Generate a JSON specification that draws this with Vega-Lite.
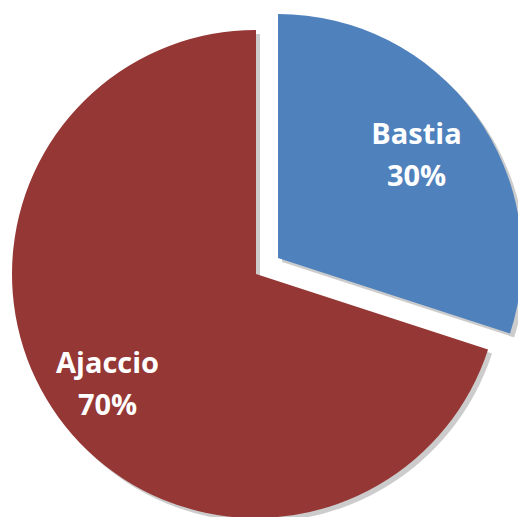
{
  "$schema": "https://vega.github.io/schema/vega-lite/v6.json",
  "width": 512,
  "height": 488,
  "autosize": "none",
  "padding": {"left": 0, "top": 30, "right": 6, "bottom": 0},
  "background": "white",
  "data": {
    "values": [
      {"city": "Bastia", "share": 30, "label": ["Bastia", "30%"], "ord": 1},
      {"city": "Ajaccio", "share": 70, "label": ["Ajaccio", "70%"], "ord": 2}
    ]
  },
  "encoding": {
    "theta": {"field": "share", "type": "quantitative", "stack": true},
    "order": {"field": "ord", "type": "quantitative"},
    "color": {
      "field": "city",
      "type": "nominal",
      "scale": {"domain": ["Bastia", "Ajaccio"], "range": ["#4F81BD", "#953735"]},
      "legend": null
    }
  },
  "layer": [
    {
      "mark": {"type": "arc", "outerRadius": 244, "xOffset": 4, "yOffset": 4},
      "encoding": {
        "color": {"value": "black"},
        "opacity": {"condition": {"test": "datum.city == 'Ajaccio'", "value": 0.2}, "value": 0}
      }
    },
    {
      "mark": {"type": "arc", "outerRadius": 244},
      "encoding": {
        "opacity": {"condition": {"test": "datum.city == 'Ajaccio'", "value": 1}, "value": 0}
      }
    },
    {
      "mark": {"type": "arc", "outerRadius": 244, "xOffset": 26, "yOffset": -12},
      "encoding": {
        "color": {"value": "black"},
        "opacity": {"condition": {"test": "datum.city == 'Bastia'", "value": 0.2}, "value": 0}
      }
    },
    {
      "mark": {"type": "arc", "outerRadius": 244, "xOffset": 22, "yOffset": -16},
      "encoding": {
        "opacity": {"condition": {"test": "datum.city == 'Bastia'", "value": 1}, "value": 0}
      }
    },
    {
      "mark": {"type": "text", "radius": 186, "dx": 2, "dy": -19, "font": "Open Sans", "fontWeight": "bold", "fontSize": 29, "lineHeight": 42, "align": "center", "baseline": "middle"},
      "encoding": {
        "text": {"field": "label", "type": "nominal"},
        "color": {"value": "white"},
        "opacity": {"condition": {"test": "datum.city == 'Ajaccio'", "value": 1}, "value": 0}
      }
    },
    {
      "mark": {"type": "text", "radius": 170, "xOffset": 22, "yOffset": -16, "dx": 1, "dy": -23, "font": "Open Sans", "fontWeight": "bold", "fontSize": 29, "lineHeight": 42, "align": "center", "baseline": "middle"},
      "encoding": {
        "text": {"field": "label", "type": "nominal"},
        "color": {"value": "white"},
        "opacity": {"condition": {"test": "datum.city == 'Bastia'", "value": 1}, "value": 0}
      }
    }
  ],
  "config": {"view": {"stroke": null}}
}
